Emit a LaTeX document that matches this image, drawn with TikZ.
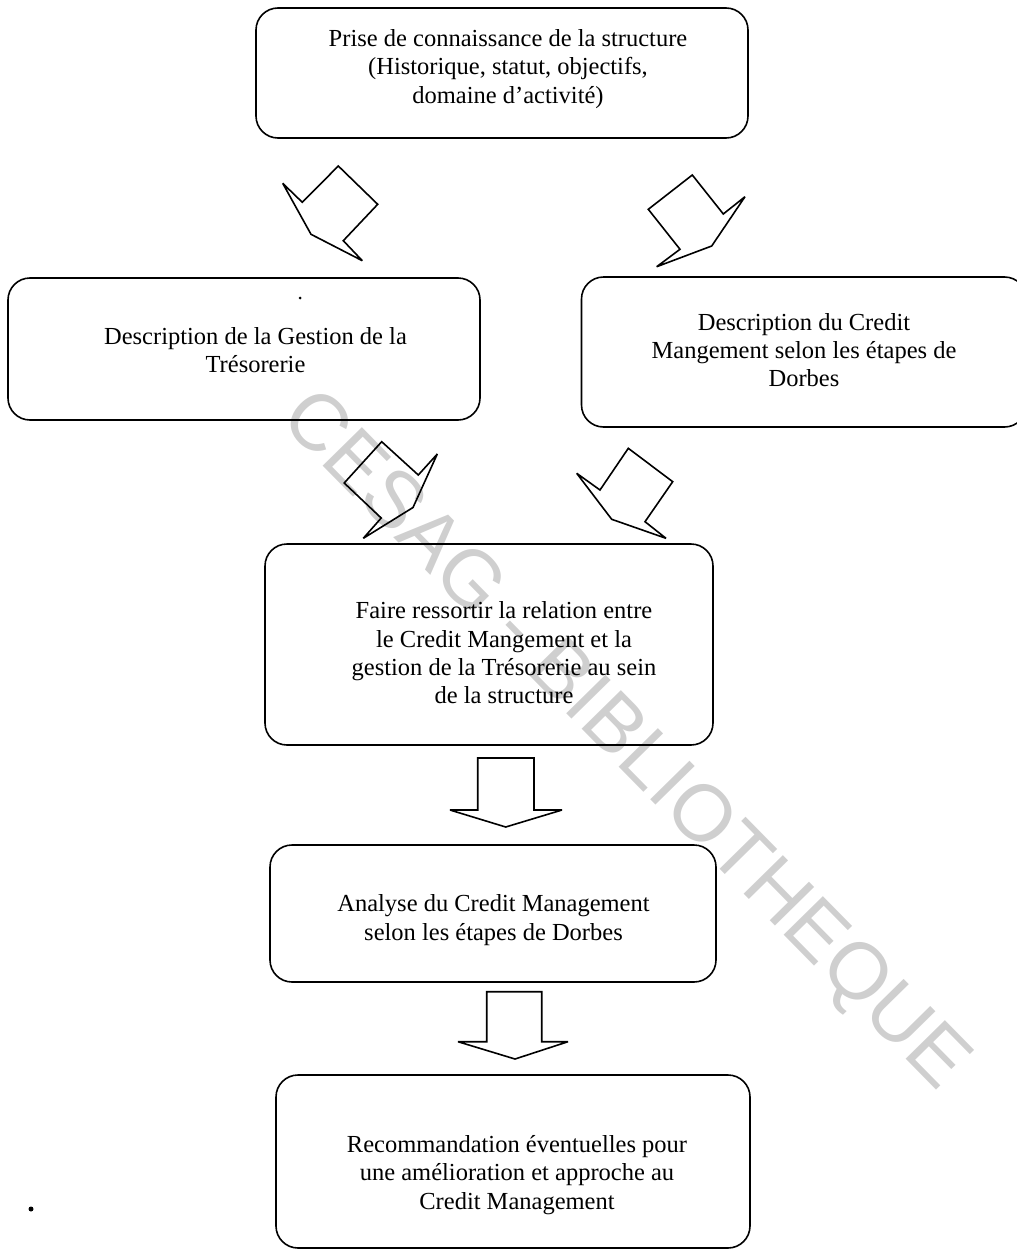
\documentclass[tikz,border=0pt]{standalone}
\usepackage{fontspec}
\setmainfont{Liberation Serif}
\newfontfamily\wmfont{Liberation Sans}
\begin{document}
\begin{tikzpicture}[x=1pt,y=-1pt,
  box/.style={draw, line width=1.6pt, rounded corners=22pt, inner sep=0pt},
  lbl/.style={align=center, inner sep=0pt, font=\fontsize{24.5}{28.3}\selectfont},
  blockarrow/.style={draw, line width=1.6pt, line join=miter, miter limit=3},
  wm/.style={text=black!19, inner sep=0pt, font=\wmfont\fontsize{80}{80}\selectfont},
  speck/.style={circle, fill=black, inner sep=0pt}]
\useasboundingbox (0,0) rectangle (1017,1250);
\clip (0,0) rectangle (1017,1250);

% watermark across the page
\node[wm, rotate=-45.5] (stamp) at (623,742) {CESAG - BIBLIOTHEQUE};

% boxes
\node[box, minimum width=492pt, minimum height=130pt] (b1) at (502,73) {};
\node[box, minimum width=472pt, minimum height=142pt] (b2) at (244,349) {};
\node[box, minimum width=445pt, minimum height=150pt] (b3) at (804,352) {};
\node[box, minimum width=448pt, minimum height=201pt] (b4) at (489,644.5) {};
\node[box, minimum width=446pt, minimum height=137pt] (b5) at (493,913.5) {};
\node[box, minimum width=474pt, minimum height=173pt] (b6) at (513,1161.5) {};

% texts
\node[lbl] (t1) at (508,69) {Prise de connaissance de la structure\\(Historique, statut, objectifs,\\domaine d'activité)};
\node[lbl] (t2) at (255.5,350) {Description de la Gestion de la\\Trésorerie};
\node[lbl] (t3) at (804,350) {Description du Credit\\Mangement selon les étapes de\\Dorbes};
\node[lbl] (t4) at (504,653) {Faire ressortir la relation entre\\le Credit Mangement et la\\gestion de la Trésorerie au sein\\de la structure};
\node[lbl] (t5) at (493.5,920) {Analyse du Credit Management\\selon les étapes de Dorbes};
\node[lbl] (t6) at (517,1175) {Recommandation éventuelles pour\\une amélioration et approche au\\Credit Management};

% stray specks
\node[speck, minimum size=3pt] (s1) at (300,298) {};
\node[speck, minimum size=5pt] (s2) at (31,1209) {};

% slanted block arrows
\draw[blockarrow] (282.7,183.3) -- (302.3,202.3) -- (338.3,166) -- (377.7,204.3)
  -- (343.3,240.7) -- (362.3,260.7) -- (311,234.3) -- cycle;
\draw[blockarrow] (648.3,209.3) -- (680,249.3) -- (656.7,266.7) -- (711.7,246)
  -- (745,196.7) -- (723.3,214) -- (692.3,175) -- cycle;
\draw[blockarrow] (381.7,441.7) -- (418.3,475) -- (437.3,454) -- (413,507.5)
  -- (363.3,538.3) -- (381.2,518) -- (344.2,483) -- cycle;
\draw[blockarrow] (628.3,448.3) -- (672.7,481.7) -- (645,521.7) -- (666,538.3)
  -- (611.7,519.3) -- (576.7,473.3) -- (600,490) -- cycle;

% downward block arrows
\draw[blockarrow] (477.7,758) -- (534,758) -- (534,810) -- (562,810)
  -- (505.7,827) -- (450,810) -- (477.7,810) -- cycle;
\draw[blockarrow] (486.7,991.7) -- (541.7,991.7) -- (541.7,1041.7) -- (568,1041.7)
  -- (515,1059) -- (458,1041.7) -- (486.7,1041.7) -- cycle;
\end{tikzpicture}
\end{document}
